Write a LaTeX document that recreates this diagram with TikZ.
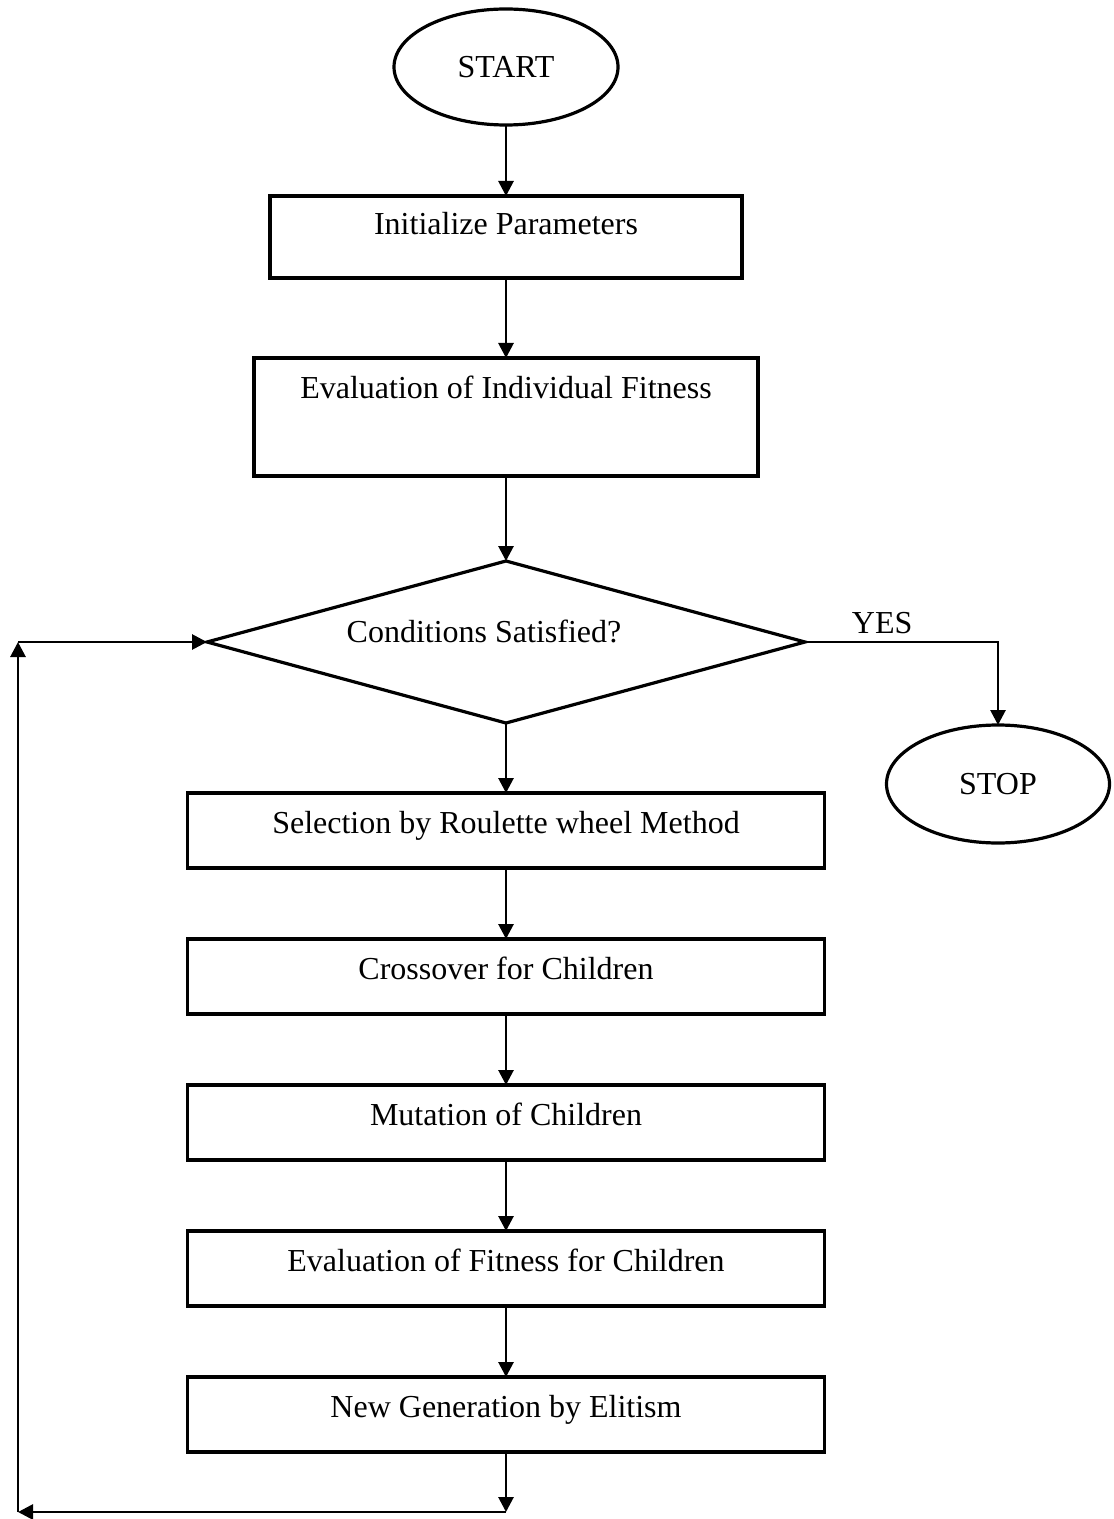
\documentclass[tikz,border=0pt]{standalone}
\usepackage{fontspec}
\setmainfont{Liberation Serif}
\usetikzlibrary{shapes.geometric, arrows.meta, positioning}

\begin{document}
\begin{tikzpicture}[
    x=0.5pt, y=-0.5pt,
    font=\fontsize{16}{19}\selectfont,
    termblk/.style={draw, ellipse, line width=1.6pt, outer sep=0pt,
                    minimum width=112pt, minimum height=58pt, inner sep=0pt},
    procblk/.style={draw, rectangle, line width=1.6pt, outer sep=0pt,
                    minimum width=318.5pt, inner sep=0pt,
                    text height=20pt, text depth=17.5pt},
    decblk/.style={draw, diamond, aspect=3.7, line width=1.6pt, outer sep=0pt,
                   minimum width=299pt, minimum height=81pt, inner sep=0pt,
                   text height=6pt, text depth=6pt},
    arw/.style={-{Triangle[length=7.5pt, width=7.5pt]}, line width=1.4pt},
    node distance=35.5pt
  ]
    \useasboundingbox (0,0) rectangle (1113,1519);

    % Blocks
    \node[termblk] (start) at (506,67) {START};
    \node[procblk, below=35.5pt of start, minimum width=236pt,
          text height=19.5pt, text depth=21.5pt] (init) {Initialize Parameters};
    \node[procblk, below=40pt of init, minimum width=252pt,
          text depth=39pt] (evalind) {Evaluation of Individual Fitness};
    \node[decblk, below=42.5pt of evalind] (cond) {Conditions Satisfied?\hspace*{22pt}};
    \node[termblk, minimum width=111.5pt, minimum height=59pt] (stop) at (998,784) {STOP};
    \node[procblk, below=35pt of cond] (select) {Selection by Roulette wheel Method};
    \node[procblk, below=of select] (cross)  {Crossover for Children};
    \node[procblk, below=of cross]  (mutate) {Mutation of Children};
    \node[procblk, below=of mutate] (evalch) {Evaluation of Fitness for Children};
    \node[procblk, below=of evalch] (newgen) {New Generation by Elitism};

    % Loop corners
    \coordinate[below=30pt of newgen.south] (fbdown);
    \coordinate[left=244pt of fbdown] (fbleft);
    \coordinate (fbtop) at (fbleft |- cond.west);

    % Arrows
    \draw[arw] (start)  -- (init);
    \draw[arw] (init)   -- (evalind);
    \draw[arw] (evalind) -- (cond);
    \draw[arw] (cond)   -- (select);
    \draw[arw] (select) -- (cross);
    \draw[arw] (cross)  -- (mutate);
    \draw[arw] (mutate) -- (evalch);
    \draw[arw] (evalch) -- (newgen);
    \draw[arw] (cond.east) -| node[pos=0.2, above]{YES} (stop.north);
    \draw[arw] (newgen) -- (fbdown);
    \draw[arw] (fbdown) -- (fbleft);
    \draw[arw] (fbleft) -- (fbtop);
    \draw[arw] (fbtop)  -- (cond.west);
\end{tikzpicture}
\end{document}
